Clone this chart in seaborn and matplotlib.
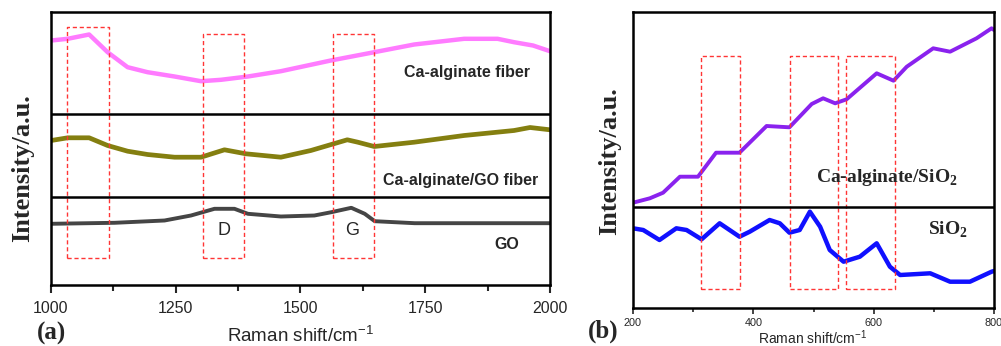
import numpy as np
import pandas as pd
import matplotlib
matplotlib.use("Agg")
import matplotlib.pyplot as plt
import seaborn as sns

sns.set_style("ticks")
plt.rcParams['font.family'] = ['Liberation Sans', 'DejaVu Sans']
plt.rcParams['mathtext.fontset'] = 'custom'
plt.rcParams['mathtext.rm'] = 'Liberation Sans'
plt.rcParams['mathtext.bf'] = 'Liberation Serif:bold'

# ---------------- data (a) ----------------
shift_a_pink = [1001, 1034, 1077, 1114, 1154, 1194, 1248, 1301, 1341, 1395, 1461, 1561,
                1648, 1728, 1828, 1895, 1928, 1966, 2000]
alg_fiber = [244, 245.7, 250, 232.3, 217.3, 212.3, 208, 203.3, 204.7, 208, 213.3, 224,
             232.3, 240, 245.7, 245.7, 242.3, 239, 233.3]

shift_a_olive = [1001, 1034, 1077, 1114, 1154, 1194, 1248, 1301, 1348, 1391, 1461, 1521,
                 1594, 1615, 1648, 1728, 1828, 1928, 1960, 2000]
alg_go_fiber = [144, 146.7, 146.7, 139, 133.3, 130, 127.3, 127.3, 134.7, 130.7, 127.3, 134,
                144.7, 142.3, 138, 142.3, 149, 154, 157, 154.7]

shift_a_gray = [1000, 1128, 1228, 1281, 1328, 1368, 1395, 1461, 1528, 1562, 1602, 1629,
                1649, 1729, 1850, 2000]
go = [60.7, 61.7, 64, 69, 75.7, 75.7, 70.7, 68, 69, 72.3, 76.7, 70.7,
      63.3, 61.3, 61.3, 61.3]

boxes_a = [(1033, 1116, 27, 258), (1306, 1388, 27, 251), (1565, 1647, 27, 251)]
separators_a = [171, 88]

# ---------------- data (b) ----------------
shift_b_purple = [200, 228, 250, 278, 308, 338, 377, 422, 460, 497, 516, 536, 555, 605,
                  633, 655, 699, 727, 771, 796, 800]
alg_sio2 = [105.3, 109.7, 115.3, 131.3, 131.3, 155.3, 155.3, 182, 180.7, 204, 209.7, 204.7,
            208.7, 234.7, 227.3, 241.3, 259.7, 256.3, 269.7, 279.7, 278]

shift_b_blue = [200, 217, 244, 272, 289, 314, 344, 377, 394, 427, 444, 460, 477, 494,
                511, 527, 550, 577, 605, 627, 644, 694, 727, 760, 796, 800]
sio2 = [79.7, 78, 68, 79.7, 78, 68.7, 84.7, 71.3, 76.3, 88, 84.7, 75.3, 78, 96.3,
        81.3, 58, 46.3, 51.3, 64.7, 41.3, 33, 34.7, 26.3, 26.3, 36.3, 37]

boxes_b = [(313.5, 378.3, 19, 252), (460.4, 540.2, 19, 252), (554.6, 636, 19, 252)]
separators_b = [101.3]

W, H = 1001, 346
fig = plt.figure(figsize=(W / 100, H / 100), dpi=100)

def add_ax(l, t, r, b):
    return fig.add_axes([l / W, 1 - b / H, (r - l) / W, (b - t) / H])

ax1 = add_ax(50.7, 12, 550, 284.5)
ax2 = add_ax(633, 12, 994, 308)

def line(ax, x, y, color, lw):
    df = pd.DataFrame({"x": x, "y": y})
    sns.lineplot(data=df, x="x", y="y", ax=ax, color=color, lw=lw, estimator=None, sort=False)

line(ax1, shift_a_pink, alg_fiber, "#ff7bff", 3.2)
line(ax1, shift_a_olive, alg_go_fiber, "#847f10", 3.4)
line(ax1, shift_a_gray, go, "#454545", 2.8)
line(ax2, shift_b_purple, alg_sio2, "#8a22ee", 2.8)
line(ax2, shift_b_blue, sio2, "#1010ff", 3.2)

for ax, boxes, seps in [(ax1, boxes_a, separators_a), (ax2, boxes_b, separators_b)]:
    for (x0, x1, y0, y1) in boxes:
        ax.plot([x0, x1, x1, x0, x0], [y0, y0, y1, y1, y0], color="#ff3535",
                lw=1.0, ls=(0, (3, 2)))
    for s in seps:
        ax.axhline(s, color="black", lw=1.8)
    for sp in ax.spines.values():
        sp.set_visible(True)
        sp.set_linewidth(1.8)
        sp.set_color("black")
    ax.set_yticks([])
    ax.set_ylabel("")
    ax.set_xlabel("")

ax1.set_xlim(1000, 2000)
ax1.set_ylim(0, 272.5)
ax1.set_xticks([1000, 1250, 1500, 1750, 2000])
ax1.set_xticks([1125, 1375, 1625, 1875], minor=True)
ax1.tick_params(axis="x", which="major", length=6, width=1.5, labelsize=11.5, pad=6, direction="out")
ax1.tick_params(axis="x", which="minor", length=4, width=1.5, direction="out")

ax2.set_xlim(200, 800)
ax2.set_ylim(0, 296)
ax2.set_xticks([200, 400, 600, 800])
ax2.set_xticks([300, 500, 700], minor=True)
ax2.tick_params(axis="x", which="major", length=4, width=1.2, labelsize=7.8, pad=3, direction="out")
ax2.tick_params(axis="x", which="minor", length=3, width=1.2, direction="out")

# labels panel (a)
fig.text(23 / W, 1 - 168 / H, "Intensity/a.u.", rotation=90, ha="center", va="center",
         family="Liberation Serif", weight="bold", fontsize=19)
fig.text(300 / W, 1 - 336 / H, r"Raman shift/cm$^{-1}$", ha="center", va="center", fontsize=13.5)
fig.text(51 / W, 1 - 333 / H, "(a)", ha="center", va="center",
         family="Liberation Serif", weight="bold", fontsize=18)

ax1.text(1834, 284 - 72.5, "Ca-alginate fiber", ha="center", va="center", weight="bold", fontsize=11.5)
ax1.text(1820, 284 - 179.5, "Ca-alginate/GO fiber", ha="center", va="center", weight="bold", fontsize=11.5)
ax1.text(1913, 284 - 244, "GO", ha="center", va="center", weight="bold", fontsize=11.5)
ax1.text(1347, 284 - 230, "D", ha="center", va="center", fontsize=13)
ax1.text(1603, 284 - 230, "G", ha="center", va="center", fontsize=13)

# labels panel (b)
fig.text(610 / W, 1 - 161 / H, "Intensity/a.u.", rotation=90, ha="center", va="center",
         family="Liberation Serif", weight="bold", fontsize=19)
fig.text(813 / W, 1 - 338 / H, r"Raman shift/cm$^{-1}$", ha="center", va="center", fontsize=10)
fig.text(603 / W, 1 - 331 / H, "(b)", ha="center", va="center",
         family="Liberation Serif", weight="bold", fontsize=18)

ax2.text(621.6, 308 - 178, r"Ca-alginate/SiO$_\mathbf{2}$", ha="center", va="center",
         family="Liberation Serif", weight="bold", fontsize=14)
ax2.text(723.5, 308 - 230, r"SiO$_\mathbf{2}$", ha="center", va="center",
         family="Liberation Serif", weight="bold", fontsize=14)

fig.savefig("out.png", dpi=100)
